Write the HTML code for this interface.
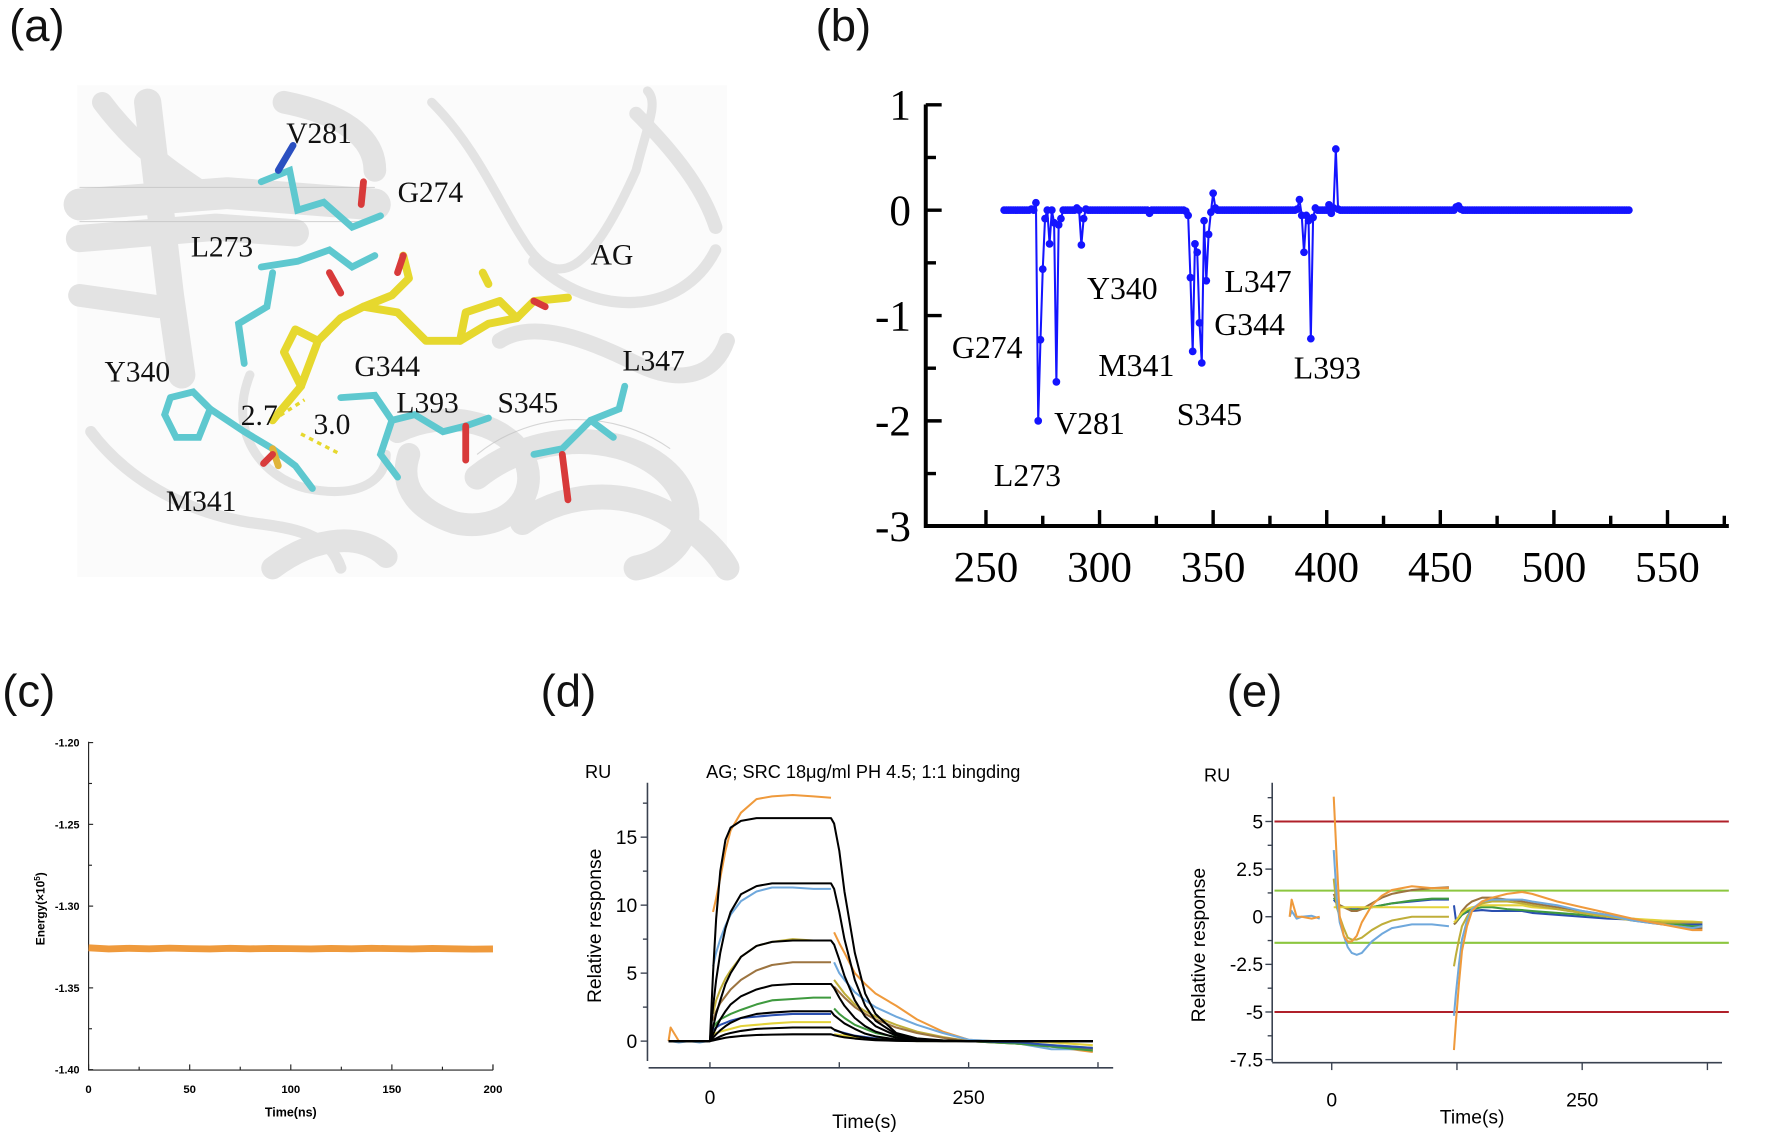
<!DOCTYPE html>
<html><head><meta charset="utf-8"><style>
html,body{margin:0;padding:0;background:#fff;}
svg{display:block;}
.tnr{font-family:"Liberation Serif",serif;}
.ar{font-family:"Liberation Sans",sans-serif;}
</style></head><body>
<svg id="fig" width="1772" height="1142" viewBox="0 0 1560 1005.3" preserveAspectRatio="none" xmlns="http://www.w3.org/2000/svg">
<rect width="1560" height="1006" fill="#fff"/>
<g class="ar" font-size="40" fill="#111">
<text x="8" y="36">(a)</text>
<text x="718" y="36">(b)</text>
<text x="2" y="622">(c)</text>
<text x="476" y="622">(d)</text>
<text x="1080" y="622">(e)</text>
</g>
<g id="pa">
<rect x="68" y="75" width="572" height="433" fill="#fbfbfb"/>
<g fill="none" stroke="#e3e3e3" stroke-linecap="round" stroke-linejoin="round">
<path d="M70 180 L200 170 L330 180" stroke-width="28"/>
<path d="M70 210 L190 200 L260 205" stroke-width="24"/>
<path d="M90 90 C120 130 150 150 180 170" stroke-width="18"/>
<path d="M130 90 L150 260 L160 330" stroke-width="24"/>
<path d="M70 260 L140 270" stroke-width="20"/>
<path d="M250 90 C300 100 330 120 330 150" stroke-width="20"/>
<path d="M380 90 C420 130 440 180 460 210 C490 260 520 240 560 150 C570 110 580 90 570 80" stroke-width="8"/>
<path d="M470 230 C520 280 600 280 630 220" stroke-width="10"/>
<path d="M440 300 C470 280 520 300 560 320 C600 340 630 330 640 300" stroke-width="14"/>
<path d="M350 380 C390 360 440 370 460 400 C480 440 440 470 400 460 C370 450 350 430 360 400" stroke-width="20"/>
<path d="M420 420 C470 380 540 380 580 410 C620 440 610 490 560 500" stroke-width="22"/>
<path d="M460 460 C500 430 560 430 600 460 C630 480 640 500 640 500" stroke-width="22"/>
<path d="M240 500 C280 470 320 470 340 490" stroke-width="20"/>
<path d="M220 330 C200 380 230 420 270 430 C320 440 340 420 340 400" stroke-width="8"/>
<path d="M80 380 C110 420 160 450 220 460 C260 465 290 470 300 500" stroke-width="10"/>
<path d="M560 100 C600 140 620 170 630 200" stroke-width="12"/>
</g>
<g fill="none" stroke="#bdbdbd" stroke-width="1" opacity="0.6">
<path d="M70 165 L330 165"/><path d="M70 195 L330 195"/><path d="M420 400 C470 360 540 360 590 395"/>
</g>
<g fill="none" stroke-linecap="round" stroke-width="6">
<path d="M230 160 L255 150 L262 185 L285 178 L310 200 L335 190" stroke="#5ec8cf"/>
<path d="M245 150 L258 128" stroke="#2a4fc0"/>
<path d="M318 180 L320 160" stroke="#d83a3a"/>
<path d="M230 235 L262 230 L290 220 L310 235 L330 225" stroke="#5ec8cf"/>
<path d="M240 240 L235 270 L210 285 L215 320" stroke="#5ec8cf"/>
<path d="M290 240 L300 258" stroke="#d83a3a"/>
<path d="M150 350 L170 345 L185 360 L175 385 L155 385 L145 365 L150 350" stroke="#5ec8cf"/>
<path d="M185 360 L215 380 L240 395 L260 410 L275 430" stroke="#5ec8cf"/>
<path d="M240 395 L245 410" stroke="#e0b43a"/>
<path d="M300 350 L330 348 L345 370 L365 365 L390 380 L410 375 L430 368" stroke="#5ec8cf"/>
<path d="M345 370 L335 400 L350 420" stroke="#5ec8cf"/>
<path d="M410 375 L410 405" stroke="#d83a3a"/>
<path d="M470 400 L495 395 L520 370 L545 360 L550 340" stroke="#5ec8cf"/>
<path d="M495 400 L500 440" stroke="#d83a3a"/>
<path d="M520 370 L540 385" stroke="#5ec8cf"/>
</g>
<g fill="none" stroke="#e6d82e" stroke-width="7" stroke-linecap="round" stroke-linejoin="round">
<path d="M240 370 L265 340 L280 300 L300 280 L320 270 L345 260 L360 245 L355 225"/>
<path d="M320 270 L350 275 L375 300 L405 300 L430 285 L455 280 L470 265 L500 262"/>
<path d="M405 300 L410 275 L440 265 L455 280"/>
<path d="M280 300 L260 290 L250 310 L265 340"/>
<path d="M430 250 L425 240"/>
</g>
<path d="M240 370 L268 352 M265 382 L300 400" stroke="#e6d82e" stroke-width="3" stroke-dasharray="4 4" fill="none"/>
<g fill="none" stroke="#d83a3a" stroke-width="6" stroke-linecap="round">
<path d="M355 225 L350 240"/><path d="M470 265 L480 270"/><path d="M240 400 L232 408"/>
</g>
<g class="tnr" font-size="26" fill="#111">
<text x="252" y="126">V281</text><text x="350" y="178">G274</text><text x="168" y="226">L273</text>
<text x="520" y="233">AG</text><text x="92" y="336">Y340</text><text x="312" y="331">G344</text>
<text x="548" y="326">L347</text><text x="212" y="374">2.7</text><text x="276" y="382">3.0</text>
<text x="349" y="363">L393</text><text x="438" y="363">S345</text><text x="146" y="450">M341</text>
</g>
</g>
<g id="pb"></g>
<g id="pc"></g>
<g id="pd"></g>
<g id="pe"></g>
</svg>
<script>
const firstResidue = 258;
function Z(n){ return new Array(n).fill(0); }
const energiesB = [
 ...Z(12), 0.01, 0,
 0.07,-2.0,-1.23,-0.56,-0.08,0,-0.32,0,-0.12,-1.63,-0.14,-0.08,0,
 ...Z(5), 0.02,0,-0.33,-0.08,0.01,
 ...Z(27), -0.03, ...Z(15),
 -0.01,-0.05,-0.64,-1.34,-0.32,-0.4,-1.07,-1.45,-0.1,-0.67,-0.23,-0.02,0.16,0.02,
 ...Z(35), 0.01,
 0.1,-0.05,-0.4,-0.05,-0.1,-1.22,-0.07,0.02,
 ...Z(5), 0.05,-0.03,0.02,0.58,0.01,
 ...Z(51), 0.03,0.04,0.01, ...Z(74)
];
const xTicksB = [250,300,350,400,450,500,550];
const yTicksB = [1,0,-1,-2,-3];
const labelsB = ["L273","G274","V281","Y340","M341","G344","S345","L347","L393"];
const labelPosB = [[875,428],[838,315],[928,382],[957,263],[967,331],[1069,295],[1036,374],[1078,257],[1139,333]];

const timeC = [0,10,20,30,40,50,60,70,80,90,100,110,120,130,140,150,160,170,180,190,200];
const energyC = [-1.3255,-1.3262,-1.3258,-1.3261,-1.3257,-1.3260,-1.3262,-1.3258,-1.3261,-1.3259,-1.3260,-1.3262,-1.3259,-1.3261,-1.3258,-1.3260,-1.3262,-1.3259,-1.3261,-1.3263,-1.3262];
const yTicksC = [-1.20,-1.25,-1.30,-1.35,-1.40];
const xTicksC = [0,50,100,150,200];

const timeFit = [-40,0,3,6,10,15,20,30,45,60,80,100,117,120,125,130,140,150,160,180,200,225,250,275,300,330,370];
const fit1 = [0,0,5,9,12.5,14.8,15.7,16.2,16.4,16.4,16.4,16.4,16.4,16,14,11,6.5,3.5,2,0.6,0.2,0.05,0,0,0,0,0];
const fit2 = [0,0,2.5,4.5,6.5,8.3,9.5,10.8,11.4,11.6,11.6,11.6,11.6,11.2,9.5,7.5,4.5,2.6,1.5,0.5,0.15,0.03,0,0,0,0,0];
const fit3 = [0,0,1,2,3,4.2,5,6.2,7,7.3,7.4,7.4,7.4,7.1,6,4.8,3,1.8,1.1,0.4,0.1,0.02,0,0,0,0,0];
const fit4 = [0,0,0.5,1,1.6,2.2,2.7,3.3,3.8,4.1,4.2,4.2,4.2,3.9,3.2,2.6,1.7,1.1,0.7,0.25,0.08,0.02,0,0,0,0,0];
const fit5 = [0,0,0.25,0.5,0.8,1.1,1.35,1.7,2,2.1,2.2,2.2,2.2,1.9,1.6,1.3,0.9,0.55,0.35,0.12,0.04,0,0,0,0,0,0];
const fit6 = [0,0,0.1,0.2,0.35,0.5,0.6,0.75,0.9,0.95,1,1,1,0.85,0.7,0.55,0.38,0.25,0.15,0.05,0.01,0,0,0,0,0,0];
const fit7 = [0,0,0.05,0.1,0.17,0.25,0.3,0.38,0.45,0.48,0.5,0.5,0.5,0.43,0.35,0.28,0.19,0.12,0.07,0.02,0,0,0,0,0,0,0];
const timeD = [-40,-38,-30,-20,-10,-2,1,3,6,10,15,20,30,45,60,80,100,117,119,120,125,130,140,150,160,180,200,225,250,275,300,330,370];
const orangeD = [0,1,0,0,0,0,null,9.5,10.5,12,14,15.5,16.8,17.8,18,18.1,18,17.9,null,8,7.2,6.5,5,4.2,3.5,2.6,1.6,0.7,0.1,0,-0.1,-0.4,-0.8];
const blueD = [0,0,-0.1,0,-0.1,0,null,5.5,6.5,7.5,8.5,9.3,10.3,11,11.3,11.3,11.2,11.2,null,5.8,5,4.5,3.6,3,2.5,1.8,1.2,0.6,0.1,0,-0.2,-0.6,-0.6];
const oliveD = [0,0,0,0,0,0,null,2,3,3.8,4.6,5.2,6.2,7,7.3,7.5,7.4,7.4,null,4.5,4,3.5,2.7,2.2,1.8,1.2,0.7,0.3,0,-0.1,-0.2,-0.3,-0.5];
const brownD = [0,0,0,0,0,0,null,1.5,2.2,2.8,3.3,3.8,4.5,5.2,5.6,5.8,5.8,5.8,null,4,3.6,3.2,2.5,2,1.6,1,0.6,0.25,0,-0.1,-0.2,-0.4,-0.6];
const greenD = [0,0,0,0,0,0,null,1,1.3,1.6,1.8,2,2.3,2.7,3,3.1,3.2,3.2,null,2.4,2,1.7,1.2,0.9,0.6,0.3,0.1,0.05,0,-0.1,-0.2,-0.4,-0.7];
const navyD = [0,0,0,0,0,0,null,0.8,1,1.2,1.35,1.5,1.7,1.8,1.9,2,2,2,null,0.8,0.7,0.6,0.4,0.3,0.2,0.1,0,0,0,-0.05,-0.1,-0.3,-0.5];
const yellowD = [0,0,0,0,0,0,null,0.4,0.6,0.7,0.8,0.9,1.1,1.2,1.3,1.4,1.4,1.4,null,0.5,0.45,0.4,0.3,0.2,0.15,0.05,0,0,0,0,0,-0.1,-0.3];
const yTicksD = [0,5,10,15];
const xTicksD = [0,250];

const timeE = [-42,-40,-35,-30,-20,-12,-5,2,5,8,12,16,20,25,30,40,50,60,80,100,117,119,122,124,127,130,135,140,150,160,175,190,200,225,250,275,300,330,360,370];
const orangeE = [0,0.9,0,0,-0.1,0,null,6.3,3,0,-1,-1.3,-1.3,-1,-0.3,0.6,1.1,1.4,1.6,1.5,1.5,null,-7,-5.5,-3.5,-1.8,-0.5,0.3,0.8,1,1.2,1.3,1.2,0.8,0.5,0.2,-0.1,-0.4,-0.7,-0.7];
const blueE = [0,0.3,-0.1,0,0.05,-0.1,null,3.5,1,-0.3,-1,-1.6,-1.9,-2,-1.9,-1.3,-0.9,-0.6,-0.4,-0.4,-0.5,null,-5.2,-4,-2.5,-1.2,-0.2,0.4,0.8,0.9,0.9,0.9,0.8,0.6,0.3,0.1,-0.2,-0.4,-0.6,-0.5];
const oliveE = [null,null,null,null,null,null,null,2,0.5,0,-0.6,-1.1,-1.2,-1.2,-1.1,-0.7,-0.4,-0.2,0,0,0,null,-2.6,-2,-1.2,-0.5,0,0.4,0.7,0.8,0.8,0.7,0.6,0.4,0.2,0,-0.2,-0.3,-0.3,-0.3];
const brownE = [null,null,null,null,null,null,null,1.2,0.8,0.6,0.5,0.4,0.3,0.3,0.4,0.7,1,1.2,1.4,1.5,1.55,null,-0.4,-0.3,0,0.3,0.6,0.8,1,1,0.9,0.8,0.7,0.5,0.3,0.1,-0.2,-0.4,-0.6,-0.6];
const greenE = [null,null,null,null,null,null,null,1,0.8,0.6,0.5,0.4,0.35,0.35,0.4,0.5,0.6,0.7,0.85,0.95,0.95,null,-0.4,-0.3,-0.1,0.1,0.3,0.4,0.5,0.5,0.4,0.35,0.3,0.2,0.1,0,-0.1,-0.3,-0.5,-0.5];
const navyE = [null,null,null,null,null,null,null,0.9,0.7,0.6,0.5,0.45,0.4,0.4,0.45,0.5,0.6,0.7,0.8,0.9,0.9,null,0.6,-0.2,0,0.1,0.25,0.3,0.35,0.3,0.3,0.3,0.2,0.1,0,-0.1,-0.15,-0.3,-0.4,-0.4];
const yellowE = [null,null,null,null,null,null,null,0.5,0.5,0.5,0.5,0.5,0.5,0.5,0.5,0.5,0.5,0.5,0.5,0.5,0.5,null,-0.3,-0.2,0,0.2,0.4,0.5,0.6,0.6,0.6,0.6,0.5,0.4,0.2,0,-0.1,-0.2,-0.25,-0.3];
const yTicksE = [5,2.5,0,-2.5,-5,-7.5];
const xTicksE = [0,250];
const redLimits = [5,-5];
const greenLimits = [1.37,-1.37];

const NS = "http://www.w3.org/2000/svg";
function mk(parent, tag, attrs, text){
  const e = document.createElementNS(NS, tag);
  for (const k in attrs) e.setAttribute(k, attrs[k]);
  if (text !== undefined) e.textContent = text;
  parent.appendChild(e);
  return e;
}
function pathFrom(xs, ys, xf, yf){
  let d = "", pen = false;
  for (let i = 0; i < xs.length; i++){
    if (ys[i] === null || ys[i] === undefined){ pen = false; continue; }
    d += (pen ? "L" : "M") + xf(xs[i]).toFixed(2) + " " + yf(ys[i]).toFixed(2) + " ";
    pen = true;
  }
  return d;
}

(function(){
  const g = document.getElementById('pb');
  const xB = r => 868 + (r - 250) * 2.0;
  const yB = v => 185 - v * 92.75;
  let ax = mk(g,'path',{d:'M815 92 L815 463 L1522 463',fill:'none',stroke:'#000','stroke-width':3.5});
  
  
  for (let v = 1; v >= -3; v -= 0.5){
    const major = Number.isInteger(v);
    mk(g,'line',{x1:815,x2:815+(major?14:9),y1:yB(v),y2:yB(v),stroke:'#000','stroke-width':3});
  }
  yTicksB.forEach(v=>{
    const t = mk(g,'text',{x:802,y:yB(v)+13,'text-anchor':'end','font-size':38,class:'tnr'},String(v));
    
    
  });
  for (let r = 250; r <= 575; r += 25){
    const major = r % 50 === 0;
    mk(g,'line',{x1:xB(r),x2:xB(r),y1:463,y2:463-(major?14:9),stroke:'#000','stroke-width':3});
  }
  xTicksB.forEach(r=>{
    const t = mk(g,'text',{x:xB(r),y:512,'text-anchor':'middle','font-size':38,class:'tnr'},String(r));
    
    
  });
  const res = energiesB.map((_, i) => firstResidue + i);
  const ln = mk(g,'path',{d:pathFrom(res, energiesB, xB, yB),fill:'none',stroke:'#1414ff','stroke-width':1.8});
  
  
  res.forEach((r,i)=>{
    const c = mk(g,'circle',{cx:xB(r),cy:yB(energiesB[i]),r:3.4,fill:'#1414ff'});
    
    
  });
  labelsB.forEach((s,i)=>{
    const t = mk(g,'text',{x:labelPosB[i][0],y:labelPosB[i][1],'font-size':28,class:'tnr'},s);
    
    
  });
})();

(function(){
  const g = document.getElementById('pc');
  const xC = t => 78 + t * (434 - 78) / 200;
  const yC = v => 653.7 + (-1.20 - v) * 1439.5;
  const ax = mk(g,'path',{d:'M78 653 L78 942 L434 942',fill:'none',stroke:'#222','stroke-width':1});
  
  
  for (let k = 0; k <= 8; k++){
    const v = -1.20 - k * 0.025;
    mk(g,'line',{x1:78,x2:k%2?81:82,y1:yC(v),y2:yC(v),stroke:'#222','stroke-width':1});
  }
  mk(g,'line',{x1:434,x2:434,y1:942,y2:937,stroke:'#222','stroke-width':1});
  for (let t = 0; t <= 200; t += 25){
    mk(g,'line',{x1:xC(t),x2:xC(t),y1:942,y2:t%50?939:937,stroke:'#222','stroke-width':1});
  }
  yTicksC.forEach(v=>{
    const t = mk(g,'text',{x:70,y:yC(v)+3.5,'text-anchor':'end','font-size':9.5,'font-weight':'bold',class:'ar'},v.toFixed(2));
    
    
  });
  xTicksC.forEach(v=>{
    const t = mk(g,'text',{x:xC(v),y:962,'text-anchor':'middle','font-size':10,'font-weight':'bold',class:'ar'},String(v));
    
    
  });
  const xt = mk(g,'text',{x:256,y:983,'text-anchor':'middle','font-size':11,'font-weight':'bold',class:'ar'},'Time(ns)');
  
  
  const yt = mk(g,'text',{transform:'translate(39,800) rotate(-90)','text-anchor':'middle','font-size':10.5,'font-weight':'bold',class:'ar'});
  
  
  yt.innerHTML = 'Energy(×10<tspan dy="-4" font-size="7">5</tspan><tspan dy="4">)</tspan>';
  const ln = mk(g,'path',{d:pathFrom(timeC, energyC, xC, yC),fill:'none',stroke:'#ef9a3c','stroke-width':6,'stroke-linejoin':'round'});
  
  
})();

(function(){
  const g = document.getElementById('pd');
  const xD = t => 625 + t * 0.911;
  const yD = v => 916.5 - v * 11.97;
  const col = '#3a4250';
  let a1 = mk(g,'path',{d:'M570 689 L570 934',fill:'none',stroke:col,'stroke-width':1.4});
  
  
  let a2 = mk(g,'path',{d:'M571 940 L980 940',fill:'none',stroke:col,'stroke-width':1.4});
  
  
  for (let v = 0; v <= 17.5; v += 2.5){
    mk(g,'line',{x1:570,x2:v%5?566:564,y1:yD(v),y2:yD(v),stroke:col,'stroke-width':1.2});
  }
  for (let t = 0; t <= 375; t += 125){
    mk(g,'line',{x1:xD(t),x2:xD(t),y1:940,y2:935,stroke:col,'stroke-width':1.2});
  }
  yTicksD.forEach(v=>{
    const t = mk(g,'text',{x:561,y:yD(v)+6,'text-anchor':'end','font-size':17,class:'ar'},String(v));
    
    
  });
  xTicksD.forEach(v=>{
    const t = mk(g,'text',{x:xD(v),y:972,'text-anchor':'middle','font-size':17,class:'ar'},String(v));
    
    
  });
  let t1 = mk(g,'text',{x:515,y:685,'font-size':16,class:'ar'},'RU');
  
  
  let t2 = mk(g,'text',{x:760,y:685,'text-anchor':'middle','font-size':16,class:'ar'},'AG; SRC 18μg/ml PH 4.5; 1:1 bingding');
  
  
  let t3 = mk(g,'text',{x:761,y:993,'text-anchor':'middle','font-size':17,class:'ar'},'Time(s)');
  
  
  let t4 = mk(g,'text',{transform:'translate(529,815) rotate(-90)','text-anchor':'middle','font-size':17,class:'ar'},'Relative response');
  
  
  const dataSeries = [[orangeD,'#ef9a3c'],[blueD,'#6fa8dc'],[oliveD,'#bfae3a'],[brownD,'#9c7440'],[greenD,'#3f9a3f'],[navyD,'#2a4fb0'],[yellowD,'#e3d23a']];
  dataSeries.forEach(s=>{
    const p = mk(g,'path',{d:pathFrom(timeD, s[0], xD, yD),fill:'none',stroke:s[1],'stroke-width':1.8,'stroke-linejoin':'round'});
    
    
  });
  [fit1,fit2,fit3,fit4,fit5,fit6,fit7].forEach(f=>{
    const p = mk(g,'path',{d:pathFrom(timeFit, f, xD, yD),fill:'none',stroke:'#000','stroke-width':1.8,'stroke-linejoin':'round'});
    
    
  });
})();

(function(){
  const g = document.getElementById('pe');
  const xE = t => 1172.4 + t * 0.882;
  const yE = v => 807 - v * 16.77;
  const col = '#3a4250';
  let a1 = mk(g,'path',{d:'M1120 689 L1120 935',fill:'none',stroke:col,'stroke-width':1.4});
  
  
  let a2 = mk(g,'path',{d:'M1120 935.5 L1516 935.5',fill:'none',stroke:col,'stroke-width':1.4});
  
  
  for (let v = -7.5; v <= 6.25; v += 1.25){
    const major = Math.abs(v / 2.5 - Math.round(v / 2.5)) < 1e-6;
    mk(g,'line',{x1:1120,x2:major?1114:1116,y1:yE(v),y2:yE(v),stroke:col,'stroke-width':1.2});
  }
  for (let t = 0; t <= 375; t += 125){
    mk(g,'line',{x1:xE(t),x2:xE(t),y1:935.5,y2:942,stroke:col,'stroke-width':1.2});
  }
  yTicksE.forEach(v=>{
    const t = mk(g,'text',{x:1112,y:yE(v)+6,'text-anchor':'end','font-size':17,class:'ar'},String(v));
    
    
  });
  xTicksE.forEach(v=>{
    const t = mk(g,'text',{x:xE(v),y:974,'text-anchor':'middle','font-size':17,class:'ar'},String(v));
    
    
  });
  let t1 = mk(g,'text',{x:1060,y:688,'font-size':16,class:'ar'},'RU');
  
  
  let t3 = mk(g,'text',{x:1296,y:989,'text-anchor':'middle','font-size':17,class:'ar'},'Time(s)');
  
  
  let t4 = mk(g,'text',{transform:'translate(1061,832) rotate(-90)','text-anchor':'middle','font-size':17,class:'ar'},'Relative response');
  
  
  redLimits.forEach(v=>{
    const l = mk(g,'line',{x1:1122,x2:1522,y1:yE(v),y2:yE(v),stroke:'#b0202a','stroke-width':1.8});
    
    
  });
  greenLimits.forEach(v=>{
    const l = mk(g,'line',{x1:1122,x2:1522,y1:yE(v),y2:yE(v),stroke:'#8cc63f','stroke-width':1.8});
    
    
  });
  const series = [[navyE,'#2a4fb0'],[greenE,'#3f9a3f'],[brownE,'#9c7440'],[yellowE,'#e3d23a'],[oliveE,'#bfae3a'],[blueE,'#6fa8dc'],[orangeE,'#ef9a3c']];
  series.forEach(s=>{
    const p = mk(g,'path',{d:pathFrom(timeE, s[0], xE, yE),fill:'none',stroke:s[1],'stroke-width':1.8,'stroke-linejoin':'round'});
    
    
  });
})();
</script>
</body></html>
